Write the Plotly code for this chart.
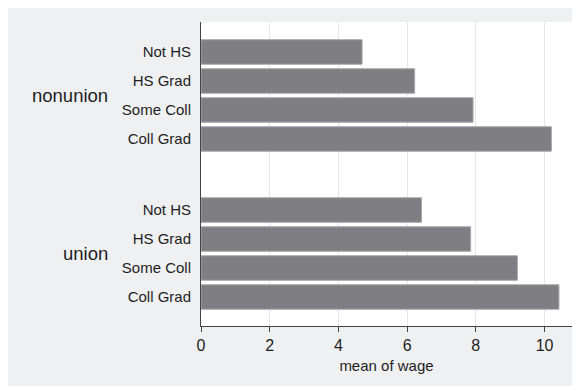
import plotly.graph_objects as go

# data
groups = ["nonunion", "union"]
education = ["Not HS", "HS Grad", "Some Coll", "Coll Grad"]
wage_nonunion = [4.69, 6.22, 7.92, 10.20]
wage_union = [6.42, 7.85, 9.21, 10.42]
x_ticks = [0, 2, 4, 6, 8, 10]

GROUP_GAP = 2.45  # extra slots between the two groups
BAR_COLOR = "#7f7f83"
TEXT_COLOR = "#1e1e1e"
FONT = "Liberation Sans, Arial, sans-serif"

# slot positions for every bar (top to bottom)
positions, values, labels = [], [], []
for g, vals in enumerate([wage_nonunion, wage_union]):
    offset = g * (len(education) + GROUP_GAP - 1)
    for i, v in enumerate(vals):
        positions.append(offset + i)
        values.append(v)
        labels.append(education[i])

fig = go.Figure()

fig.add_trace(go.Bar(
    x=values, y=positions,
    orientation="h",
    width=0.845,
    marker=dict(color=BAR_COLOR, line=dict(color="#a9a9ac", width=1)),
    hoverinfo="x",
    showlegend=False,
))

# group labels
for g, name in enumerate(groups):
    grp_pos = positions[g * len(education):(g + 1) * len(education)]
    fig.add_annotation(
        x=-0.245, xref="paper", xanchor="right",
        y=sum(grp_pos) / len(grp_pos), yref="y",
        text=name, showarrow=False,
        font=dict(size=18.5, color=TEXT_COLOR, family=FONT),
    )

fig.update_xaxes(
    range=[0, 10.8],
    tickvals=x_ticks,
    ticks="outside", ticklen=5, tickcolor="#444444",
    showline=True, linecolor="#444444", linewidth=1,
    showgrid=True, gridcolor="#e6e6e6", gridwidth=1,
    zeroline=False, automargin=False,
    tickfont=dict(size=16, color=TEXT_COLOR, family=FONT),
    title=dict(text="mean of wage", standoff=7,
               font=dict(size=15, color=TEXT_COLOR, family=FONT)),
)
fig.update_yaxes(
    range=[positions[-1] + 1.0, -1.034],
    tickvals=positions, ticktext=labels,
    ticks="", ticklabelstandoff=6,
    showline=True, linecolor="#444444", linewidth=1,
    showgrid=False, zeroline=False, automargin=False,
    tickfont=dict(size=15, color=TEXT_COLOR, family=FONT),
)

# page body adds an 8px white border at top/left
fig.update_layout(
    width=570, height=378,
    margin=dict(l=193, r=6, t=14, b=60, autoexpand=False),
    paper_bgcolor="#eff0f2",
    plot_bgcolor="white",
    font=dict(family=FONT),
)

fig.write_html("out.html")
